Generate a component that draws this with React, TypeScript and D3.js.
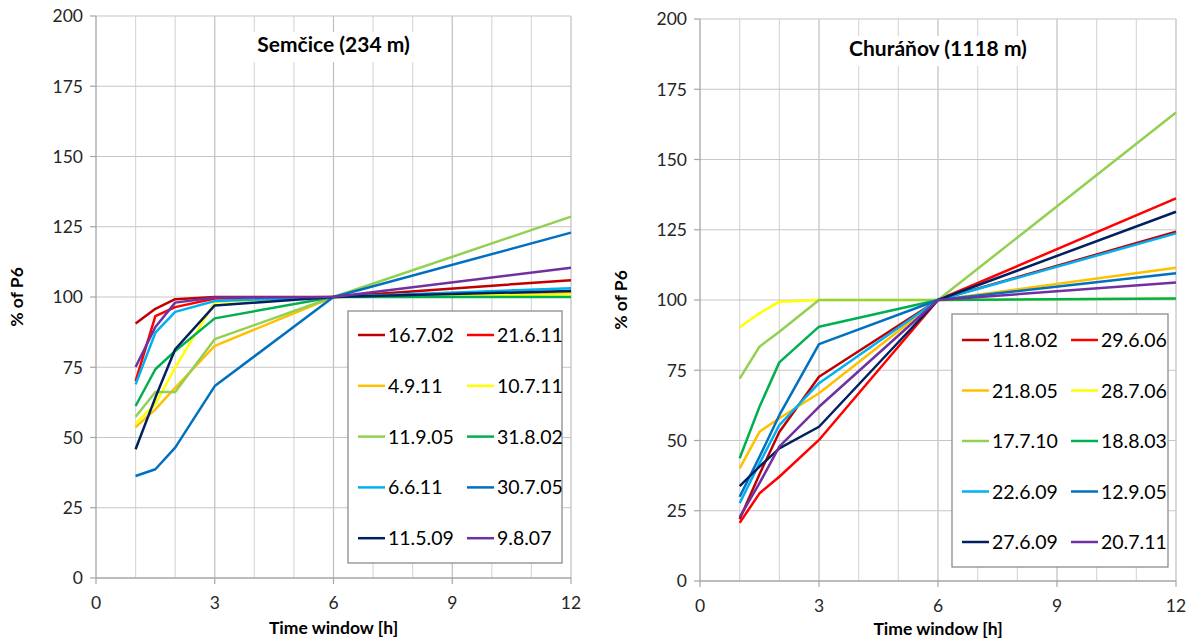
import React from 'react';
import * as d3 from 'd3';

// time windows [h]
const hours = [1, 1.5, 2, 3, 6, 12];
const xTicks = [0, 3, 6, 9, 12];
const yTicks = [0, 25, 50, 75, 100, 125, 150, 175, 200];

// Semčice (234 m), % of P6
const sem_16_7_02 = [90.6, 95.8, 99.2, 100, 100, 106];
const sem_21_6_11 = [70.1, 93.2, 96.4, 99.5, 100, 101.5];
const sem_4_9_11 = [53.7, 60, 67.7, 82.6, 100, 102];
const sem_10_7_11 = [54.9, 62, 74.9, 98.2, 100, 101];
const sem_11_9_05 = [57.4, 66.2, 66.2, 85, 100, 128.6];
const sem_31_8_02 = [61.2, 74.3, 80.8, 92.4, 100, 100];
const sem_6_6_11 = [68.9, 87.3, 94.7, 98.6, 100, 103.1];
const sem_30_7_05 = [36.3, 38.7, 46.4, 68.3, 100, 122.9];
const sem_11_5_09 = [45.8, 64.2, 81.4, 97, 100, 102.1];
const sem_9_8_07 = [75.1, 89.3, 98, 99.8, 100, 110.4];

// Churáňov (1118 m), % of P6
const chu_11_8_02 = [22, 38, 53, 72.7, 100, 124.3];
const chu_29_6_06 = [20.7, 31.2, 37.1, 50.2, 100, 136.2];
const chu_21_8_05 = [40.1, 53.1, 57.9, 66.8, 100, 111.5];
const chu_28_7_06 = [90.3, 95.3, 99.4, 100, 100, 100.5];
const chu_17_7_10 = [72, 83.4, 88.7, 100, 100, 166.7];
const chu_18_8_03 = [43.7, 62, 77.8, 90.5, 100, 100.5];
const chu_22_6_09 = [27.7, 41.9, 55.5, 70.4, 100, 123.7];
const chu_12_9_05 = [30, 44.2, 59, 84.3, 100, 109.5];
const chu_27_6_09 = [33.8, 40.7, 47.2, 54.9, 100, 131.4];
const chu_20_7_11 = [22.7, 34.8, 47.8, 62, 100, 106.2];

const colors = ['#C00000', '#FF0000', '#FFC000', '#FFFF00', '#92D050',
  '#00B050', '#00B0F0', '#0070C0', '#002060', '#7030A0'];

const semNames = ['16.7.02', '21.6.11', '4.9.11', '10.7.11', '11.9.05',
  '31.8.02', '6.6.11', '30.7.05', '11.5.09', '9.8.07'];
const semValues = [sem_16_7_02, sem_21_6_11, sem_4_9_11, sem_10_7_11, sem_11_9_05,
  sem_31_8_02, sem_6_6_11, sem_30_7_05, sem_11_5_09, sem_9_8_07];

const chuNames = ['11.8.02', '29.6.06', '21.8.05', '28.7.06', '17.7.10',
  '18.8.03', '22.6.09', '12.9.05', '27.6.09', '20.7.11'];
const chuValues = [chu_11_8_02, chu_29_6_06, chu_21_8_05, chu_28_7_06, chu_17_7_10,
  chu_18_8_03, chu_22_6_09, chu_12_9_05, chu_27_6_09, chu_20_7_11];

const FONT = 'Lato, "Open Sans", sans-serif';

type PanelProps = {
  title: string;
  names: string[];
  values: number[][];
  x0: number; x1: number; y0: number; y1: number;
  titleY: number;
  xTitleY: number;
  legend: { x: number; y: number; w: number; h: number; first: number; step: number };
};

const Panel: React.FC<PanelProps> = ({ title, names, values, x0, x1, y0, y1, titleY, xTitleY, legend }) => {
  const x = d3.scaleLinear([0, 12], [x0, x1]);
  const y = d3.scaleLinear([0, 200], [y0, y1]);
  const line = d3.line<number>().x((_, i) => x(hours[i])).y(d => y(d));
  const cx = (x0 + x1) / 2;
  return (
    <g fontFamily={FONT}>
      {/* vertical grid, every hour */}
      {d3.range(1, 13).map(h => (
        <line key={'v' + h} x1={x(h)} x2={x(h)} y1={y0} y2={y1}
          stroke={h % 3 === 0 ? '#bfbfbf' : '#d9d9d9'} strokeWidth={1.2} />
      ))}
      {yTicks.filter(t => t > 0).map(t => (
        <line key={'h' + t} x1={x0} x2={x1} y1={y(t)} y2={y(t)} stroke="#c6c6c6" strokeWidth={1.2} />
      ))}
      {/* axes */}
      <line x1={x0} x2={x0} y1={y0 + 0.5} y2={y1} stroke="#a6a6a6" strokeWidth={1.3} />
      <line x1={x0} x2={x1} y1={y0} y2={y0} stroke="#a6a6a6" strokeWidth={1.3} />
      {yTicks.map(t => (
        <g key={'yt' + t}>
          <line x1={x0 - 6} x2={x0} y1={y(t)} y2={y(t)} stroke="#a6a6a6" strokeWidth={1.2} />
          <text x={x0 - 13} y={y(t)} dy="0.36em" textAnchor="end" fontSize={17.5} fill="#262626">{t}</text>
        </g>
      ))}
      {xTicks.map(t => (
        <g key={'xt' + t}>
          <line x1={x(t)} x2={x(t)} y1={y0} y2={y0 + 6} stroke="#a6a6a6" strokeWidth={1.2} />
          <text x={x(t)} y={y0 + 31} textAnchor="middle" fontSize={17.5} fill="#262626">{t}</text>
        </g>
      ))}
      {/* series */}
      {values.map((v, i) => (
        <path key={names[i]} d={line(v) ?? ''} fill="none" stroke={colors[i]}
          strokeWidth={2.5} strokeLinejoin="round" />
      ))}
      {/* title */}
      <rect x={cx - 92} y={titleY - 20} width={184} height={30} fill="#fff" />
      <text x={cx} y={titleY} textAnchor="middle" fontSize={21} fontWeight="bold" fill="#000">{title}</text>
      {/* legend */}
      <rect x={legend.x} y={legend.y} width={legend.w} height={legend.h} fill="#fff"
        stroke="#8c8c8c" strokeWidth={1.3} />
      {names.map((n, i) => {
        const col = i % 2;
        const row = Math.floor(i / 2);
        const lx = legend.x + 10 + col * 109;
        const ly = legend.y + legend.first + row * legend.step;
        return (
          <g key={'lg' + n}>
            <line x1={lx} x2={lx + 27} y1={ly} y2={ly} stroke={colors[i]} strokeWidth={2.5} />
            <text x={lx + 30} y={ly} dy="0.36em" fontSize={19.5} fill="#000">{n}</text>
          </g>
        );
      })}
      {/* axis titles */}
      <text transform={`translate(${x0 - 73},${(y0 + y1) / 2}) rotate(-90)`} textAnchor="middle"
        fontSize={17.5} fontWeight="bold" fill="#000">% of P6</text>
      <text x={cx} y={xTitleY} textAnchor="middle" fontSize={17.5} fontWeight="bold" fill="#000">Time window [h]</text>
    </g>
  );
};

const App: React.FC = () => (
  <svg width={1193} height={641} style={{ position: 'absolute', left: 0, top: 0, background: '#fff' }}>
    <Panel title="Semčice (234 m)" names={semNames} values={semValues}
      x0={96} x1={571} y0={578} y1={16} titleY={52} xTitleY={634}
      legend={{ x: 348, y: 311, w: 214, h: 252, first: 24, step: 50.8 }} />
    <Panel title="Churáňov (1118 m)" names={chuNames} values={chuValues}
      x0={700} x1={1176} y0={581} y1={19} titleY={56} xTitleY={635}
      legend={{ x: 952, y: 314, w: 216, h: 253, first: 26, step: 50.5 }} />
  </svg>
);

export default App;
